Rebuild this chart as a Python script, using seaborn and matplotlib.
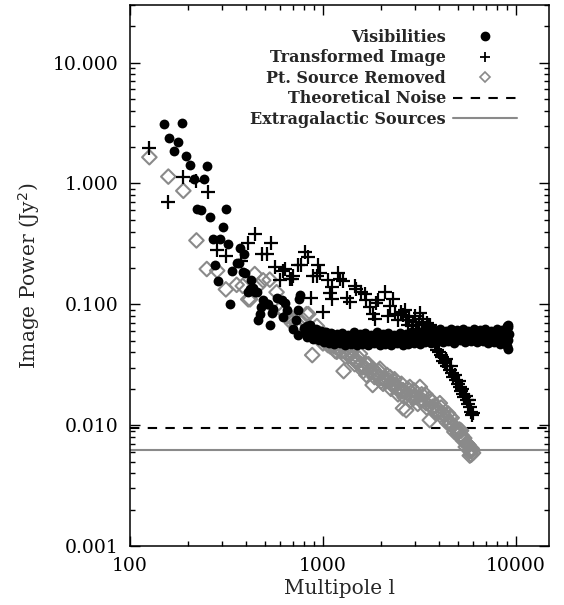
import numpy as np
import pandas as pd
import matplotlib
matplotlib.use("Agg")
import matplotlib.pyplot as plt
import seaborn as sns
from matplotlib.lines import Line2D
from matplotlib.ticker import FixedLocator, FuncFormatter, LogLocator, NullFormatter

# ---------------- data ----------------
vis_l = [150, 186, 160, 178, 169, 196, 205, 250, 214, 242,
         223, 232, 313, 260, 304, 270, 293, 323, 372, 390,
         368, 357, 276, 287, 336, 386, 394, 425, 330, 453,
         490, 760, 750, 472, 542, 462, 531, 740, 822, 419,
         445, 510, 610, 634, 575, 520, 480, 433, 410, 553,
         650, 620, 728, 745, 700, 856]
vis_p = [3.1, 3.15, 2.4, 2.2, 1.87, 1.7, 1.43, 1.4, 1.08, 1.08,
         0.62, 0.6, 0.61, 0.53, 0.44, 0.35, 0.35, 0.315, 0.29, 0.26,
         0.22, 0.22, 0.21, 0.157, 0.19, 0.185, 0.18, 0.158, 0.10, 0.126,
         0.108, 0.12, 0.11, 0.083, 0.084, 0.074, 0.068, 0.09, 0.066, 0.135,
         0.126, 0.10, 0.108, 0.102, 0.113, 0.10, 0.095, 0.137, 0.126, 0.092,
         0.089, 0.079, 0.074, 0.056, 0.063, 0.067]

vis_band_l = [800, 830, 860, 890, 920, 950, 980, 1010, 1040, 1070,
              1100, 1140, 1180, 1220, 1260, 1300, 1350, 1400, 1450, 1500,
              1550, 1600, 1660, 1720, 1780, 1840, 1900, 1970, 2040, 2110,
              2180, 2260, 2340, 2420, 2500, 2590, 2680, 2770, 2870, 2970,
              3070, 3180, 3290, 3400, 3520, 3640, 3770, 3900, 4030, 4170,
              4320, 4470, 4620, 4780, 4950, 5120, 5300, 5480, 5670, 5870,
              6070, 6280, 6500, 6720, 6950, 7190, 7440, 7700, 7960, 8240,
              8520, 8800, 8950, 9050, 9150, 9000, 9100, 8900]
vis_band_p = [0.064, 0.054, 0.066, 0.052, 0.062, 0.051, 0.060, 0.049, 0.059, 0.048,
              0.058, 0.047, 0.057, 0.048, 0.058, 0.046, 0.056, 0.047, 0.059, 0.046,
              0.057, 0.047, 0.058, 0.046, 0.056, 0.048, 0.059, 0.046, 0.057, 0.047,
              0.058, 0.046, 0.056, 0.048, 0.058, 0.046, 0.057, 0.047, 0.059, 0.048,
              0.058, 0.047, 0.060, 0.049, 0.059, 0.048, 0.061, 0.050, 0.062, 0.049,
              0.060, 0.050, 0.063, 0.048, 0.061, 0.051, 0.062, 0.049, 0.060, 0.050,
              0.062, 0.049, 0.061, 0.050, 0.063, 0.048, 0.060, 0.049, 0.062, 0.047,
              0.061, 0.048, 0.066, 0.043, 0.065, 0.045, 0.068, 0.053]

vis_mid_l = [815, 875, 935, 995, 1055, 1120, 1200, 1280, 1375, 1475,
             1575, 1690, 1810, 1935, 2075, 2220, 2380, 2545, 2725, 2920,
             3125, 3345, 3580, 3835, 4100, 4390, 4700, 5030, 5390, 5770,
             6170, 6610, 7070, 7570, 8100, 8660, 9200, 9150]
vis_mid_p = [0.058, 0.057, 0.056, 0.055, 0.053, 0.052, 0.052, 0.052, 0.051, 0.052,
             0.052, 0.051, 0.052, 0.052, 0.051, 0.052, 0.051, 0.052, 0.052, 0.053,
             0.053, 0.054, 0.054, 0.055, 0.055, 0.056, 0.055, 0.056, 0.055, 0.056,
             0.055, 0.056, 0.055, 0.055, 0.055, 0.054, 0.057, 0.051]

img_l = [126, 158, 189, 220, 253, 443, 410, 535, 283, 314,
         485, 510, 378, 565, 620, 745, 770, 810, 840, 944,
         965, 600, 688, 634, 675, 700, 930, 890, 870, 1000,
         1060, 1110, 1087, 1110, 1200, 1225, 1275, 1330, 1380, 1460,
         1490, 1580, 1650, 1680, 1750, 1810, 1880, 1860, 2100, 2300,
         1930, 2224, 2170, 2350, 2540, 2460, 2700, 2920, 3050, 3250,
         3580, 2600, 2800, 3150, 3400, 3650, 3800, 3900, 4000, 4100,
         4200, 4300, 4400, 4550, 4650, 4750, 4900, 5000, 5120, 5200,
         5300, 5400, 5550, 5650, 5770, 5850, 5950, 6000, 3500, 3700,
         3750, 3950, 4150, 4350, 4600, 4850, 5050, 5250, 5500, 5700,
         2650, 2750, 3000, 3100, 3300, 3450, 3350, 3200, 2900, 3600]
img_p = [1.95, 0.70, 1.14, 1.04, 0.85, 0.38, 0.32, 0.32, 0.28, 0.25,
         0.26, 0.26, 0.23, 0.205, 0.19, 0.21, 0.21, 0.27, 0.245, 0.21,
         0.18, 0.158, 0.163, 0.196, 0.163, 0.17, 0.17, 0.17, 0.113, 0.087,
         0.158, 0.14, 0.125, 0.11, 0.18, 0.163, 0.155, 0.113, 0.104, 0.142,
         0.135, 0.126, 0.121, 0.108, 0.095, 0.083, 0.102, 0.076, 0.126, 0.111,
         0.108, 0.096, 0.08, 0.083, 0.087, 0.074, 0.074, 0.071, 0.067, 0.067,
         0.063, 0.082, 0.078, 0.072, 0.060, 0.050, 0.047, 0.042, 0.040, 0.038,
         0.034, 0.033, 0.031, 0.0285, 0.027, 0.025, 0.0236, 0.022, 0.0207, 0.019,
         0.018, 0.017, 0.0162, 0.015, 0.0141, 0.0128, 0.0122, 0.0126, 0.065, 0.056,
         0.052, 0.046, 0.037, 0.035, 0.031, 0.026, 0.023, 0.020, 0.0175, 0.016,
         0.090, 0.068, 0.080, 0.062, 0.075, 0.070, 0.058, 0.085, 0.066, 0.068]

pts_l = [126, 158, 189, 221, 250, 283, 314, 357, 384, 410,
         443, 490, 530, 462, 575, 600, 650, 700, 760, 822,
         419, 634, 675, 690, 728, 790, 840, 880, 930, 965,
         1040, 1000, 1087, 1180, 1275, 1380, 1430, 1490, 1555, 1680,
         1810, 1974, 1280, 1810, 2700, 1140, 1680, 2224, 2500, 2600,
         2820, 3050, 3180, 2600, 3580, 3700, 4036, 4550, 4550, 4900,
         5280, 5550, 5770, 6000, 5870, 5770, 1200, 1350, 1500, 1600,
         1900, 2100, 2300, 2400, 2000, 2900, 3300, 3400, 3900, 4200,
         4300, 4700, 5000, 5100, 5400, 5650, 5900, 3800, 3000, 2200]
pts_p = [1.65, 1.14, 0.87, 0.338, 0.196, 0.19, 0.133, 0.145, 0.142, 0.11,
         0.178, 0.158, 0.16, 0.142, 0.126, 0.092, 0.079, 0.074, 0.066, 0.083,
         0.11, 0.087, 0.079, 0.07, 0.066, 0.074, 0.083, 0.038, 0.066, 0.057,
         0.053, 0.0475, 0.045, 0.0405, 0.045, 0.0417, 0.0367, 0.0334, 0.039, 0.032,
         0.0293, 0.0293, 0.028, 0.0215, 0.0133, 0.045, 0.026, 0.025, 0.0195, 0.0195,
         0.0207, 0.0171, 0.0207, 0.0138, 0.011, 0.0138, 0.0152, 0.0117, 0.0104, 0.0091,
         0.0079, 0.0071, 0.0062, 0.0059, 0.0057, 0.0056, 0.043, 0.038, 0.033, 0.030,
         0.027, 0.024, 0.022, 0.0215, 0.023, 0.017, 0.016, 0.018, 0.013, 0.0125,
         0.011, 0.0098, 0.0086, 0.0092, 0.0078, 0.0068, 0.0064, 0.0145, 0.019, 0.0235]

pts_extra_l = [1020, 1060, 1110, 1160, 1230, 1310, 1400, 1460, 1530, 1620,
               1720, 1850, 1950, 2050, 2150, 2250, 2350, 2450, 2550, 2650,
               2750, 2850, 2950, 3100, 3250, 3450, 3650, 3850, 4100, 4400,
               4650, 4800, 5200, 5500, 5700, 5800, 5950, 5300, 4450, 3550]
pts_extra_p = [0.056, 0.046, 0.050, 0.041, 0.046, 0.037, 0.040, 0.032, 0.036, 0.028,
               0.032, 0.025, 0.028, 0.022, 0.026, 0.020, 0.024, 0.018, 0.022, 0.017,
               0.020, 0.016, 0.0195, 0.015, 0.018, 0.014, 0.016, 0.0125, 0.014, 0.0105,
               0.0115, 0.0088, 0.0090, 0.0066, 0.0068, 0.0061, 0.0062, 0.0075, 0.0125, 0.0165]

pts_core_l = [1010, 1090, 1170, 1250, 1330, 1420, 1510, 1580, 1650, 1760,
              1880, 2000, 2130, 2280, 2420, 2580, 2760, 2980, 3200, 3420,
              3700, 3950, 4250, 4600, 4950, 5250, 5600]
pts_core_p = [0.051, 0.047, 0.044, 0.041, 0.039, 0.036, 0.034, 0.032, 0.030, 0.028,
              0.026, 0.0245, 0.023, 0.0215, 0.020, 0.019, 0.018, 0.017, 0.016, 0.0152,
              0.0142, 0.013, 0.012, 0.0105, 0.0092, 0.0082, 0.0070]

theoretical_noise = 0.0094
extragalactic_sources = 0.0062

legend_labels = ["Visibilities", "Transformed Image", "Pt. Source Removed",
                 "Theoretical Noise", "Extragalactic Sources"]
x_ticks = [100, 1000, 10000]
y_ticks = [0.001, 0.01, 0.1, 1.0, 10.0]

GREY = "#8a8a8a"

# ---------------- plot ----------------
sns.set_theme(style="ticks")
plt.rcParams["font.family"] = ["DejaVu Serif"]
plt.rcParams["axes.linewidth"] = 1.1

fig = plt.figure(figsize=(5.64, 6.05), dpi=100)
ax = fig.add_axes([130 / 564, 59 / 605, 419 / 564, 541 / 605])

vis_df = pd.DataFrame({"l": vis_l + vis_band_l + vis_mid_l,
                       "P": vis_p + vis_band_p + vis_mid_p})
img_df = pd.DataFrame({"l": img_l, "P": img_p})
pts_df = pd.DataFrame({"l": pts_l + pts_extra_l + pts_core_l,
                       "P": pts_p + pts_extra_p + pts_core_p})

sns.scatterplot(data=pts_df, x="l", y="P", ax=ax, marker="D", s=55,
                color=GREY, zorder=2)
coll = ax.collections[-1]
coll.set_facecolor("none")
coll.set_edgecolor(GREY)
coll.set_linewidth(1.5)

sns.scatterplot(data=vis_df, x="l", y="P", ax=ax, marker="o", s=50,
                color="black", linewidth=0, zorder=3)
sns.scatterplot(data=img_df, x="l", y="P", ax=ax, marker="+", s=110,
                color="black", linewidth=1.6, zorder=4)

ax.axhline(theoretical_noise, color="black", lw=1.5, ls=(0, (4.5, 4.0)), zorder=1)
ax.axhline(extragalactic_sources, color=GREY, lw=1.5, zorder=1)

ax.set_xscale("log")
ax.set_yscale("log")
ax.set_xlim(100, 14850)
ax.set_ylim(0.001, 30)

ax.xaxis.set_major_locator(FixedLocator(x_ticks))
ax.xaxis.set_major_formatter(FuncFormatter(lambda v, p: f"{int(round(v))}"))
ax.yaxis.set_major_locator(FixedLocator(y_ticks))
ax.yaxis.set_major_formatter(FuncFormatter(lambda v, p: f"{v:.3f}"))
ax.xaxis.set_minor_locator(LogLocator(base=10, subs=np.arange(2, 10)))
ax.yaxis.set_minor_locator(LogLocator(base=10, subs=np.arange(2, 10)))
ax.xaxis.set_minor_formatter(NullFormatter())
ax.yaxis.set_minor_formatter(NullFormatter())

ax.tick_params(which="both", direction="in", top=True, right=True,
               colors="black", labelsize=13.5, width=1.0)
ax.tick_params(which="major", length=7.5, pad=8)
ax.tick_params(which="minor", length=3.8)

ax.set_xlabel("Multipole l", fontsize=14.5, labelpad=3)
ax.set_ylabel("Image Power (Jy$^2$)", fontsize=14.5, labelpad=8)

handles = [
    Line2D([], [], marker="o", ls="", color="black", ms=6),
    Line2D([], [], marker="+", ls="", color="black", ms=7, mew=1.3),
    Line2D([], [], marker="D", ls="", mfc="none", mec=GREY, ms=5, mew=1.2),
    Line2D([], [], color="black", lw=1.5, ls=(0, (4.5, 4.0))),
    Line2D([], [], color=GREY, lw=1.5),
]
leg = ax.legend(handles, legend_labels, loc="upper right", frameon=False,
                markerfirst=False, prop={"size": 11.5, "weight": "bold"},
                handlelength=4.0, handletextpad=0.45, labelspacing=0.22,
                borderpad=0, borderaxespad=0, bbox_to_anchor=(0.924, 0.956))

for sp in ax.spines.values():
    sp.set_color("black")

fig.savefig("out.png", dpi=100)
